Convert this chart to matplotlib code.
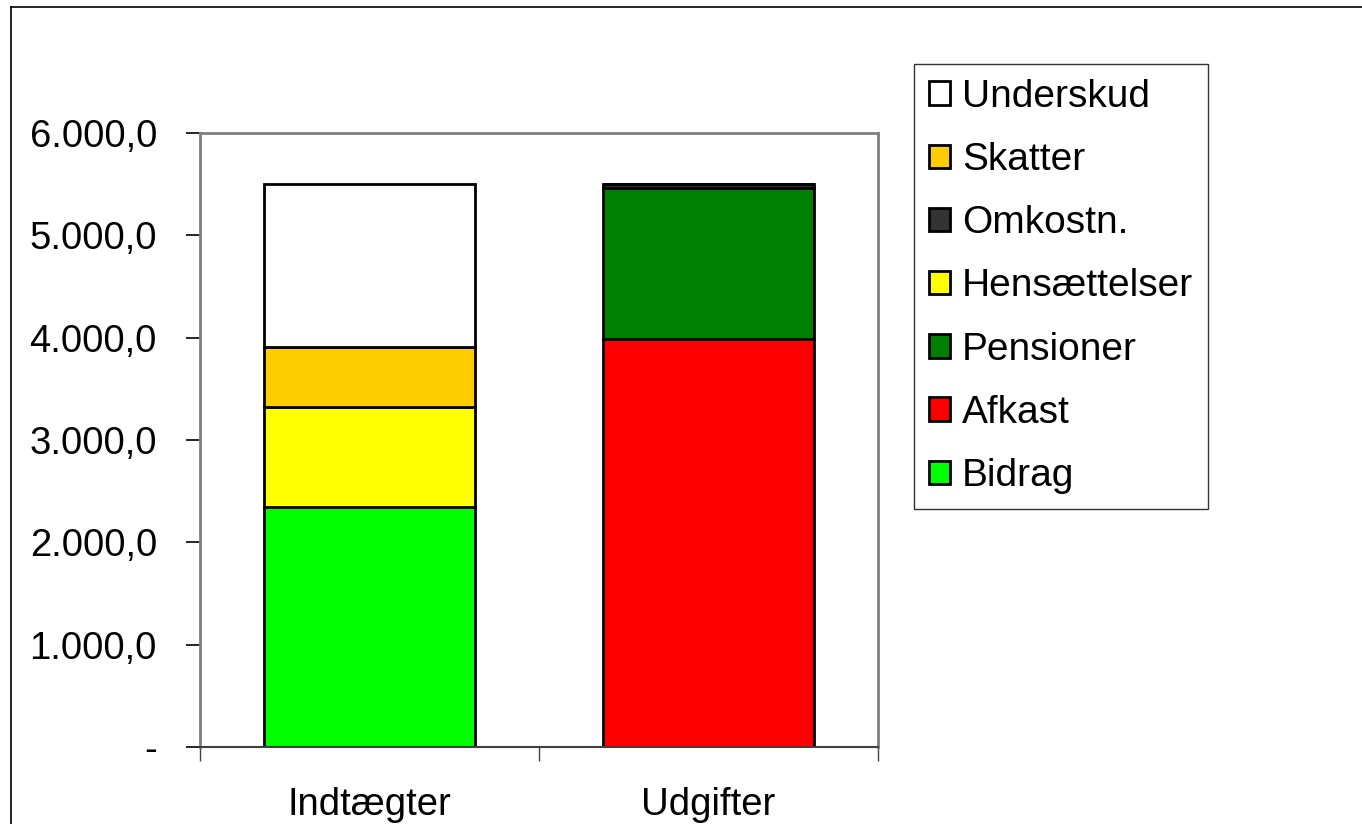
import matplotlib
matplotlib.use("Agg")
import matplotlib.pyplot as plt
from matplotlib.patches import Patch
from matplotlib.lines import Line2D
from matplotlib.ticker import FuncFormatter

categories = ["Indtægter", "Udgifter"]
series_names = ["Bidrag", "Afkast", "Pensioner", "Hensættelser", "Omkostn.", "Skatter", "Underskud"]
bidrag = [2345, 0]
afkast = [0, 3990]
pensioner = [0, 1475]
hensaettelser = [978, 0]
omkostn = [0, 40]
skatter = [586, 0]
underskud = [1593, 0]
series_values = [bidrag, afkast, pensioner, hensaettelser, omkostn, skatter, underskud]
colors = ["#00ff00", "#ff0000", "#008000", "#ffff00", "#333333", "#ffcc00", "#ffffff"]
yticks = [0, 1000, 2000, 3000, 4000, 5000, 6000]

plt.rcParams['font.family'] = ['Liberation Sans', 'DejaVu Sans']
W, H = 1362, 824
fig = plt.figure(figsize=(W / 100, H / 100), dpi=100)

# outer chart border
fig.add_artist(Line2D([11 / W, 11 / W], [0, 1 - 7 / H], color="black", lw=1.2, transform=fig.transFigure))
fig.add_artist(Line2D([11 / W, 1.0], [1 - 7 / H, 1 - 7 / H], color="black", lw=1.2, transform=fig.transFigure))

ax = fig.add_axes([200 / W, 1 - 747 / H, (878 - 200) / W, (747 - 133) / H])
x = [0, 1]
bottoms = [0, 0]
for name, vals, c in zip(series_names, series_values, colors):
    ax.bar(x, vals, width=0.625, bottom=bottoms, color=c, edgecolor="black", linewidth=2, label=name)
    bottoms = [b + v for b, v in zip(bottoms, vals)]

ax.set_xlim(-0.5, 1.5)
ax.set_ylim(0, 6000)
ax.set_yticks(yticks)


def fmt(v, pos):
    if v == 0:
        return "-"
    s = f"{v:,.1f}"
    return s.replace(",", "X").replace(".", ",").replace("X", ".")


ax.yaxis.set_major_formatter(FuncFormatter(fmt))
ax.set_xticks([0.5 - 1, 0.5, 1.5])
ax.set_xticklabels([])
ax.set_xticks(x, minor=True)
ax.set_xticklabels(categories, minor=True)
ax.tick_params(axis="x", which="major", length=10, width=1, color="#444444", direction="out")
ax.tick_params(axis="x", which="minor", length=0, labelsize=27.5, pad=29)
ax.tick_params(axis="y", length=10, width=1.2, color="black", direction="out", labelsize=27.5, pad=21)
for side in ["top", "right", "left"]:
    ax.spines[side].set_color("#808080")
    ax.spines[side].set_linewidth(2)
ax.spines["bottom"].set_color("#404040")
ax.spines["bottom"].set_linewidth(1.5)

handles = [Patch(facecolor=c, edgecolor="black", linewidth=2, label=n) for n, c in zip(series_names, colors)][::-1]
leg = fig.legend(handles=handles, loc="upper left", bbox_to_anchor=(914 / W, 1 - 64 / H),
                 frameon=True, fancybox=False, shadow=False, fontsize=28,
                 handlelength=0.55, handleheight=0.55, handletextpad=0.3,
                 labelspacing=0.70, borderpad=0.38, borderaxespad=0)
leg.get_frame().set_edgecolor("black")
leg.get_frame().set_linewidth(1)

fig.savefig("out.png", dpi=100)
